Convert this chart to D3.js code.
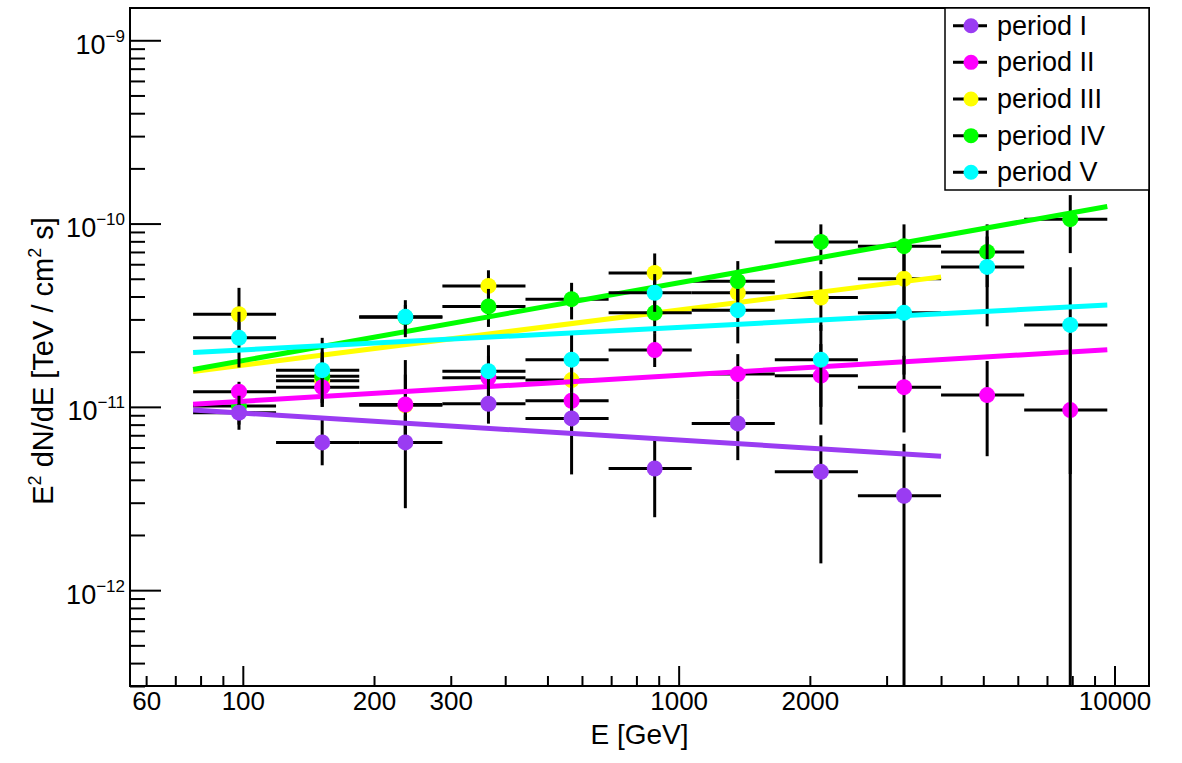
<!DOCTYPE html>
<html>
<head>
<meta charset="utf-8">
<script src="https://cdn.jsdelivr.net/npm/d3@7"></script>
<style>
    body { margin: 0; background: #fff; }
    #spectrum-chart { width: 1182px; height: 763px; }
    text { font-family: "Liberation Sans", Arial, Helvetica, sans-serif; }
</style>
</head>
<body>
<div id="spectrum-chart"></div>
<script>

// energy bins [GeV]
const binLow  = [76.9, 119.2, 185.0, 287.0, 445.2, 690.7, 1071.5, 1662, 2578, 4000, 6206];
const binHigh = [119.2, 185.0, 287.0, 445.2, 690.7, 1071.5, 1662, 2578, 4000, 6206, 9627];
const energy  = [98.0, 152.1, 236.0, 366.1, 568.0, 881.1, 1366.8, 2120, 3289, 5103, 7916];

const periods = ["period I", "period II", "period III", "period IV", "period V"];
const periodColors = ["#9a3cf2", "#ff00ff", "#ffff00", "#00ff00", "#00ffff"];

// E^2 dN/dE [TeV / cm^2 s], with lower / upper end of error bar (null = no point)
const fluxI    = [9.3e-12, 6.4e-12, 6.4e-12, 1.04e-11, 8.65e-12, 4.61e-12, 8.12e-12, 4.42e-12, 3.27e-12, null, null];
const fluxLoI  = [7.5e-12, 4.8e-12, 2.8e-12, 8.1e-12, 4.28e-12, 2.5e-12, 5.12e-12, 1.4e-12, 1e-14, null, null];
const fluxHiI  = [1.15e-11, 8.5e-12, 9e-12, 1.3e-11, 1.2e-11, 6.6e-12, 1.1e-11, 7e-12, 6.3e-12, null, null];

const fluxII   = [1.21e-11, 1.28e-11, 1.03e-11, 1.44e-11, 1.08e-11, 2.04e-11, 1.51e-11, 1.48e-11, 1.28e-11, 1.16e-11, 9.6e-12];
const fluxLoII = [9.5e-12, 1.0e-11, 7e-12, 1.1e-11, 7e-12, 1.65e-11, 1.1e-11, 8e-12, 7.25e-12, 5.38e-12, 1e-14];
const fluxHiII = [1.37e-11, 1.6e-11, 1.5e-11, 1.9e-11, 1.5e-11, 2.5e-11, 1.94e-11, 2.2e-11, 1.9e-11, 1.78e-11, 2.5e-11];

const fluxIII   = [3.2e-11, 1.39e-11, 1.02e-11, 4.57e-11, 1.40e-11, 5.38e-11, 4.19e-11, 3.95e-11, 5.0e-11, null, null];
const fluxLoIII = [2.2e-11, 1.0e-11, 6e-12, 3.6e-11, 9e-12, 4.3e-11, 3.2e-11, 2.6e-11, 3.5e-11, null, null];
const fluxHiIII = [4.46e-11, 1.9e-11, 1.8e-11, 5.56e-11, 2.0e-11, 6.87e-11, 5.4e-11, 5.5e-11, 6.8e-11, null, null];

const fluxIV   = [1.01e-11, 1.47e-11, 3.08e-11, 3.53e-11, 3.87e-11, 3.26e-11, 4.85e-11, 7.94e-11, 7.53e-11, 7.0e-11, 1.057e-10];
const fluxLoIV = [8e-12, 1.05e-11, 2.5e-11, 2.73e-11, 3.0e-11, 2.5e-11, 3.8e-11, 6e-11, 5.5e-11, 4.5e-11, 6.9e-11];
const fluxHiIV = [1.3e-11, 2.0e-11, 3.6e-11, 4.4e-11, 4.75e-11, 4.2e-11, 6.24e-11, 9.9e-11, 9.9e-11, 9.9e-11, 1.43e-10];

const fluxV   = [2.38e-11, 1.585e-11, 3.1e-11, 1.566e-11, 1.81e-11, 4.19e-11, 3.37e-11, 1.81e-11, 3.26e-11, 5.8e-11, 2.8e-11];
const fluxLoV = [1.64e-11, 1.1e-11, 2.4e-11, 1.15e-11, 1.3e-11, 3.3e-11, 2.22e-11, 1.0e-11, 1.5e-11, 2.75e-11, 4.3e-12];
const fluxHiV = [3.3e-11, 2.38e-11, 3.82e-11, 2.17e-11, 2.5e-11, 5.3e-11, 4.4e-11, 2.8e-11, 5e-11, 8.5e-11, 5.78e-11];

// power-law fits: energy range and flux at both ends
const fitStartE    = [76.9, 76.9, 76.9, 76.9, 76.9];
const fitEndE      = [4000, 9627, 4000, 9627, 9627];
const fitStartFlux = [9.6e-12, 1.034e-11, 1.56e-11, 1.60e-11, 1.98e-11];
const fitEndFlux   = [5.38e-12, 2.05e-11, 5.12e-11, 1.24e-10, 3.59e-11];

const xTickLabels = [60, 100, 200, 300, 1000, 2000, 10000];


class SpectrumPlot {

    constructor(parentElement) {
        this.parentElement = parentElement;
        this.displayData = [];

        this.initVis();
    }

    initVis() {
        let vis = this;

        vis.margin = {top: 8, right: 33, bottom: 77, left: 130};
        vis.width = 1182 - vis.margin.left - vis.margin.right;
        vis.height = 763 - vis.margin.top - vis.margin.bottom;

        vis.root = d3.select("#" + vis.parentElement).append("svg")
            .attr("width", 1182)
            .attr("height", 763);

        vis.svg = vis.root.append("g")
            .attr("transform", "translate(" + vis.margin.left + "," + vis.margin.top + ")");

        vis.x = d3.scaleLog()
            .domain([55.1, 12000])
            .range([0, vis.width]);

        vis.y = d3.scaleLog()
            .domain([3e-13, 1.5e-9])
            .range([vis.height, 0]);

        vis.svg.append("clipPath")
            .attr("id", "plot-clip")
            .append("rect")
            .attr("width", vis.width)
            .attr("height", vis.height);

        // axis titles
        vis.svg.append("text")
            .attr("x", vis.width / 2)
            .attr("y", vis.height + 58)
            .attr("text-anchor", "middle")
            .style("font-size", "28px")
            .text("E [GeV]");

        let yTitle = vis.svg.append("text")
            .attr("transform", "translate(-77," + 353 + ") rotate(-90)")
            .attr("text-anchor", "middle")
            .style("font-size", "29px");
        yTitle.append("tspan").text("E");
        yTitle.append("tspan").attr("dy", -12).style("font-size", "18px").text("2");
        yTitle.append("tspan").attr("dy", 12).text(" dN/dE [TeV / cm");
        yTitle.append("tspan").attr("dy", -12).style("font-size", "18px").text("2");
        yTitle.append("tspan").attr("dy", 12).text(" s]");

        vis.wrangleData();
    }

    wrangleData() {
        let vis = this;

        let fluxes = [fluxI, fluxII, fluxIII, fluxIV, fluxV];
        let fluxLows = [fluxLoI, fluxLoII, fluxLoIII, fluxLoIV, fluxLoV];
        let fluxHighs = [fluxHiI, fluxHiII, fluxHiIII, fluxHiIV, fluxHiV];

        vis.displayData = periods.map(function (name, i) {
            let points = [];
            energy.forEach(function (e, k) {
                if (fluxes[i][k] === null) return;
                points.push({
                    e: e, eLo: binLow[k], eHi: binHigh[k],
                    f: fluxes[i][k], fLo: fluxLows[i][k], fHi: fluxHighs[i][k]
                });
            });
            return {
                name: name,
                color: periodColors[i],
                points: points,
                fit: [[fitStartE[i], fitStartFlux[i]], [fitEndE[i], fitEndFlux[i]]]
            };
        });

        // ROOT draw order seen in the picture
        vis.drawOrder = [2, 3, 1, 4, 0];

        vis.updateVis();
    }

    updateVis() {
        let vis = this;

        let allTicksX = vis.x.ticks();
        let allTicksY = vis.y.ticks();
        let isDecade = d => Math.abs(Math.log10(d) - Math.round(Math.log10(d))) < 1e-6;

        // x axis: minor then major ticks, pointing inwards
        let xMinor = vis.svg.append("g")
            .attr("class", "x-minor")
            .attr("transform", "translate(0," + vis.height + ")")
            .call(d3.axisBottom(vis.x)
                .tickValues(allTicksX.filter(d => !isDecade(d)))
                .tickSize(-10)
                .tickPadding(7)
                .tickFormat(d => xTickLabels.includes(Math.round(d)) ? d3.format("d")(d) : ""));

        let xMajor = vis.svg.append("g")
            .attr("class", "x-major")
            .attr("transform", "translate(0," + vis.height + ")")
            .call(d3.axisBottom(vis.x)
                .tickValues(allTicksX.filter(d => isDecade(d)))
                .tickSize(-20)
                .tickPadding(7)
                .tickFormat(d => xTickLabels.includes(Math.round(d)) ? d3.format("d")(d) : ""));

        [xMinor, xMajor].forEach(function (g) {
            g.select(".domain").remove();
            g.selectAll("line").attr("stroke", "black").attr("stroke-width", 2);
            g.selectAll("text")
                .attr("fill", "black")
                .attr("dy", 0)
                .attr("y", 24)
                .style("font-size", "26px")
                .attr("font-family", null);
        });

        // y axis
        let yMinor = vis.svg.append("g")
            .attr("class", "y-minor")
            .call(d3.axisLeft(vis.y)
                .tickValues(allTicksY.filter(d => !isDecade(d)))
                .tickSize(-15)
                .tickFormat(""));

        let yMajor = vis.svg.append("g")
            .attr("class", "y-major")
            .call(d3.axisLeft(vis.y)
                .tickValues(allTicksY.filter(d => isDecade(d)))
                .tickSize(-31)
                .tickPadding(5));

        [yMinor, yMajor].forEach(function (g) {
            g.select(".domain").remove();
            g.selectAll("line").attr("stroke", "black").attr("stroke-width", 2);
        });

        yMajor.selectAll("text")
            .attr("fill", "black")
            .attr("font-family", null)
            .attr("dy", 13)
            .style("font-size", "27px")
            .each(function (d) {
                let t = d3.select(this).text(null);
                t.append("tspan").text("10");
                t.append("tspan")
                    .attr("dy", -12)
                    .style("font-size", "17px")
                    .text("\u2212" + Math.abs(Math.round(Math.log10(d))));
            });

        // data
        let plot = vis.svg.append("g").attr("clip-path", "url(#plot-clip)");
        let fitLine = d3.line()
            .x(d => vis.x(d[0]))
            .y(d => vis.y(d[1]));

        vis.drawOrder.forEach(function (i) {
            let series = vis.displayData[i];
            let g = plot.append("g").attr("class", "series-" + i);

            g.selectAll(".xerr")
                .data(series.points)
                .enter()
                .append("line")
                .attr("x1", d => vis.x(d.eLo))
                .attr("x2", d => vis.x(d.eHi))
                .attr("y1", d => vis.y(d.f))
                .attr("y2", d => vis.y(d.f))
                .attr("stroke", "black")
                .attr("stroke-width", 3);

            g.selectAll(".yerr")
                .data(series.points)
                .enter()
                .append("line")
                .attr("x1", d => vis.x(d.e))
                .attr("x2", d => vis.x(d.e))
                .attr("y1", d => vis.y(d.fLo))
                .attr("y2", d => vis.y(d.fHi))
                .attr("stroke", "black")
                .attr("stroke-width", 3);

            g.selectAll("circle")
                .data(series.points)
                .enter()
                .append("circle")
                .attr("cx", d => vis.x(d.e))
                .attr("cy", d => vis.y(d.f))
                .attr("r", 8)
                .attr("fill", series.color);

            g.append("path")
                .datum(series.fit)
                .attr("d", fitLine)
                .attr("fill", "none")
                .attr("stroke", series.color)
                .attr("stroke-width", 5);
        });

        // frame
        vis.svg.append("rect")
            .attr("width", vis.width)
            .attr("height", vis.height)
            .attr("fill", "none")
            .attr("stroke", "black")
            .attr("stroke-width", 2);

        // legend
        let legend = vis.svg.append("g")
            .attr("transform", "translate(" + (vis.width - 204) + ",0)");

        legend.append("rect")
            .attr("width", 204)
            .attr("height", 182)
            .attr("fill", "white")
            .attr("stroke", "black")
            .attr("stroke-width", 1.5);

        let rows = legend.selectAll(".legend-row")
            .data(vis.displayData)
            .enter()
            .append("g")
            .attr("transform", (d, i) => "translate(0," + (17.7 + i * 36.65) + ")");

        rows.append("line")
            .attr("x1", 8)
            .attr("x2", 42)
            .attr("stroke", "black")
            .attr("stroke-width", 3);

        rows.append("circle")
            .attr("cx", 26)
            .attr("r", 7.5)
            .attr("fill", d => d.color);

        rows.append("text")
            .attr("x", 52)
            .attr("y", 9)
            .style("font-size", "27px")
            .text(d => d.name);
    }
}

new SpectrumPlot("spectrum-chart");

</script>
</body>
</html>
